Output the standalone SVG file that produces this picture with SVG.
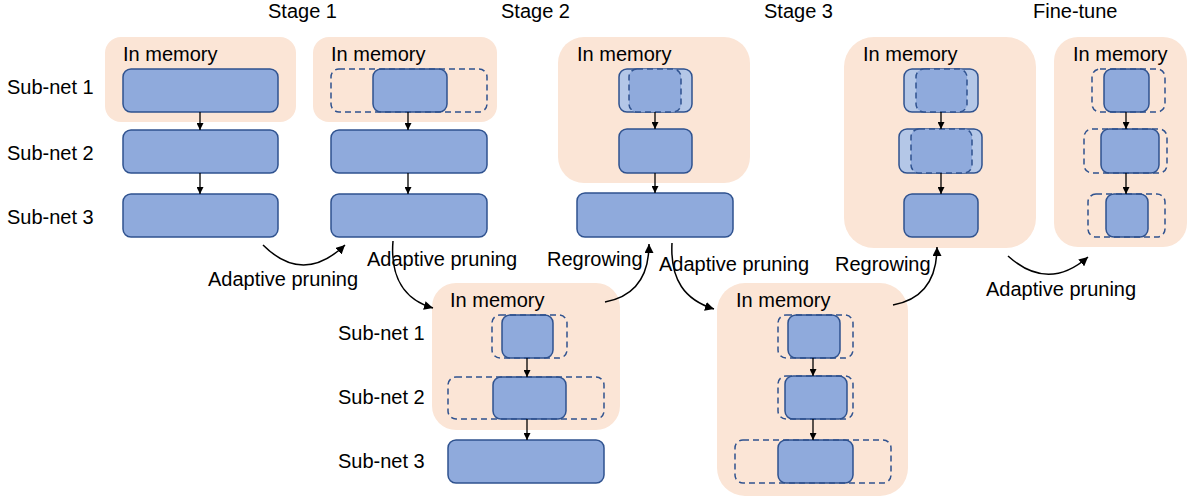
<svg xmlns="http://www.w3.org/2000/svg" width="1190" height="500" viewBox="0 0 1190 500">
<defs>
<style>
.t{font-family:"Liberation Sans",Arial,sans-serif;font-size:20px;fill:#000}
.st{font-family:"Liberation Sans",Arial,sans-serif;font-size:20px;fill:#000}
.mem{fill:#FBE5D6}
.blk{fill:#8FAADC;stroke:#2F528F;stroke-width:1.5}
.lt{fill:#B4C7E7;stroke:#2F528F;stroke-width:1.5}
.dsh{fill:none;stroke:#2F528F;stroke-width:1.5;stroke-dasharray:6 4}
.dshf{fill:#8FAADC;stroke:#2F528F;stroke-width:1.5;stroke-dasharray:6 4}
.a{fill:none;stroke:#000;stroke-width:1.3}
.c{fill:none;stroke:#000;stroke-width:1.5}
</style>
<marker id="ah" viewBox="0 0 8 8" markerWidth="7" markerHeight="7" refX="8" refY="4" orient="auto" markerUnits="userSpaceOnUse"><path d="M0,0 L8,4 L0,8 z" fill="#000"/></marker>
<marker id="ah2" viewBox="0 0 10 10" markerWidth="9" markerHeight="9" refX="10" refY="5" orient="auto" markerUnits="userSpaceOnUse"><path d="M0,0 L10,5 L0,10 z" fill="#000"/></marker>
</defs>

<g id="titles">
<text class="st" x="268" y="18">Stage 1</text>
<text class="st" x="501" y="18">Stage 2</text>
<text class="st" x="764" y="18">Stage 3</text>
<text class="st" x="1033" y="18">Fine-tune</text>
</g>

<g id="labels-left">
<text class="t" x="7" y="94">Sub-net 1</text>
<text class="t" x="7" y="160">Sub-net 2</text>
<text class="t" x="7" y="224">Sub-net 3</text>
</g>
<g id="labels-mid">
<text class="t" x="338" y="340">Sub-net 1</text>
<text class="t" x="338" y="404">Sub-net 2</text>
<text class="t" x="338" y="468">Sub-net 3</text>
</g>

<g id="col1">
<rect class="mem" x="105" y="37" width="191" height="85" rx="16"/>
<text class="t" x="123" y="61">In memory</text>
<rect class="blk" x="123" y="69" width="155" height="43" rx="8"/>
<rect class="blk" x="123" y="130" width="155" height="43" rx="8"/>
<rect class="blk" x="123" y="194" width="155" height="43" rx="8"/>
</g>

<g id="col2">
<rect class="mem" x="313" y="37" width="184" height="85" rx="16"/>
<text class="t" x="331" y="61">In memory</text>
<rect class="blk" x="373" y="69" width="74" height="43" rx="8"/>
<rect class="dsh" x="331" y="69" width="156" height="43" rx="8"/>
<rect class="blk" x="331" y="130" width="156" height="43" rx="8"/>
<rect class="blk" x="331" y="194" width="156" height="43" rx="8"/>
</g>

<g id="col3">
<rect class="mem" x="558" y="37" width="192" height="146" rx="26"/>
<text class="t" x="577" y="61">In memory</text>
<rect class="lt" x="619" y="69" width="73" height="43" rx="8"/>
<rect class="dshf" x="629" y="69" width="52" height="43" rx="8"/>
<rect class="blk" x="619" y="129" width="73" height="44" rx="8"/>
<rect class="blk" x="577" y="193" width="156" height="44" rx="8"/>
</g>

<g id="col4">
<rect class="mem" x="844" y="37" width="192" height="211" rx="30"/>
<text class="t" x="863" y="61">In memory</text>
<rect class="lt" x="904" y="69" width="74" height="43" rx="8"/>
<rect class="dshf" x="916" y="69" width="51" height="43" rx="8"/>
<rect class="lt" x="899" y="129" width="83" height="44" rx="8"/>
<rect class="dshf" x="911" y="129" width="61" height="44" rx="8"/>
<rect class="blk" x="904" y="194" width="74" height="43" rx="8"/>
</g>

<g id="col5">
<rect class="mem" x="1054" y="37" width="133" height="210" rx="24"/>
<text class="t" x="1073" y="61">In memory</text>
<rect class="blk" x="1104" y="69" width="45" height="43" rx="8"/>
<rect class="dsh" x="1092" y="69" width="73" height="43" rx="8"/>
<rect class="blk" x="1101" y="129" width="58" height="44" rx="8"/>
<rect class="dsh" x="1084" y="129" width="83" height="44" rx="8"/>
<rect class="blk" x="1106" y="194" width="42" height="43" rx="8"/>
<rect class="dsh" x="1088" y="194" width="77" height="43" rx="8"/>
</g>

<g id="col6">
<rect class="mem" x="432" y="283" width="188" height="147" rx="24"/>
<text class="t" x="450" y="307">In memory</text>
<rect class="blk" x="502" y="315" width="51" height="43" rx="8"/>
<rect class="dsh" x="492" y="315" width="75" height="43" rx="8"/>
<rect class="blk" x="493" y="377" width="73" height="42" rx="8"/>
<rect class="dsh" x="448" y="377" width="156" height="42" rx="8"/>
<rect class="blk" x="448" y="440" width="156" height="43" rx="8"/>
</g>

<g id="col7">
<rect class="mem" x="717" y="283" width="191" height="213" rx="28"/>
<text class="t" x="736" y="307">In memory</text>
<rect class="blk" x="788" y="315" width="52" height="43" rx="8"/>
<rect class="dsh" x="778" y="315" width="75" height="43" rx="8"/>
<rect class="blk" x="785" y="376" width="62" height="43" rx="8"/>
<rect class="dsh" x="778" y="376" width="75" height="43" rx="8"/>
<rect class="blk" x="778" y="440" width="75" height="43" rx="8"/>
<rect class="dsh" x="735" y="440" width="156" height="43" rx="8"/>
</g>

<g id="connectors">
<line class="a" x1="200" y1="112" x2="200" y2="130" marker-end="url(#ah)"/>
<line class="a" x1="200" y1="173" x2="200" y2="194" marker-end="url(#ah)"/>
<line class="a" x1="408" y1="112" x2="408" y2="130" marker-end="url(#ah)"/>
<line class="a" x1="408" y1="173" x2="408" y2="194" marker-end="url(#ah)"/>
<line class="a" x1="655" y1="112" x2="655" y2="129" marker-end="url(#ah)"/>
<line class="a" x1="655" y1="173" x2="655" y2="193" marker-end="url(#ah)"/>
<line class="a" x1="941" y1="112" x2="941" y2="129" marker-end="url(#ah)"/>
<line class="a" x1="941" y1="173" x2="941" y2="194" marker-end="url(#ah)"/>
<line class="a" x1="1126" y1="112" x2="1126" y2="129" marker-end="url(#ah)"/>
<line class="a" x1="1126" y1="173" x2="1126" y2="194" marker-end="url(#ah)"/>
<line class="a" x1="527" y1="358" x2="527" y2="377" marker-end="url(#ah)"/>
<line class="a" x1="527" y1="419" x2="527" y2="440" marker-end="url(#ah)"/>
<line class="a" x1="813" y1="358" x2="813" y2="376" marker-end="url(#ah)"/>
<line class="a" x1="813" y1="419" x2="813" y2="440" marker-end="url(#ah)"/>

<path class="c" d="M263,245 Q303,285 345,245" marker-end="url(#ah2)"/>
<path class="c" d="M393,241 C390,278 405,300 433,308" marker-end="url(#ah2)"/>
<path class="c" d="M605,302 C632,297 649,280 649,244" marker-end="url(#ah2)"/>
<path class="c" d="M672,243 C670,280 685,300 714,309" marker-end="url(#ah2)"/>
<path class="c" d="M893,305 C920,300 937,283 937,247" marker-end="url(#ah2)"/>
<path class="c" d="M1008,256 Q1048,292 1088,257" marker-end="url(#ah2)"/>
</g>

<g id="arc-labels">
<text class="t" x="208" y="286">Adaptive pruning</text>
<text class="t" x="367" y="266">Adaptive pruning</text>
<text class="t" x="547" y="266">Regrowing</text>
<text class="t" x="659" y="271">Adaptive pruning</text>
<text class="t" x="835" y="271">Regrowing</text>
<text class="t" x="986" y="296">Adaptive pruning</text>
</g>
</svg>
